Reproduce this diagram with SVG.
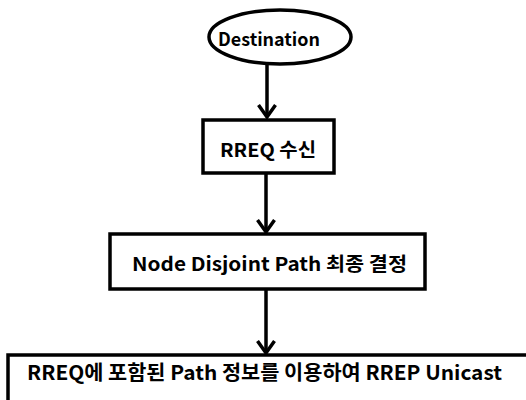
<svg xmlns="http://www.w3.org/2000/svg" width="526" height="400" viewBox="0 0 526 400">
<defs>
<style>
.n{fill:#fff;stroke:#000;stroke-width:3.5}
.t{font-family:"Noto Sans CJK KR","Noto Sans",sans-serif;font-weight:bold;fill:#000;text-anchor:middle}
.c{stroke:#000;stroke-width:3.5;fill:none}
.h{stroke:#000;stroke-width:3.5;fill:none;stroke-linejoin:miter}
</style>
</defs>
<rect width="526" height="400" fill="#fff"/>
<g id="connectors">
<line class="c" x1="267" y1="65" x2="267" y2="117"/>
<path class="h" d="M258.5,105 L267,117 L275.5,105"/>
<line class="c" x1="266" y1="173" x2="266" y2="232"/>
<path class="h" d="M257.5,220 L266,232 L274.5,220"/>
<line class="c" x1="266" y1="289" x2="266" y2="353"/>
<path class="h" d="M257.5,341 L266,353 L274.5,341"/>
</g>
<g id="destination">
<ellipse class="n" cx="280" cy="37" rx="71" ry="27"/>
<text class="t" x="269" y="46" font-size="18" textLength="102" lengthAdjust="spacingAndGlyphs">Destination</text>
</g>
<g id="rreq">
<rect class="n" x="203" y="120" width="131" height="53"/>
<text class="t" x="268" y="157" font-size="19" textLength="96" lengthAdjust="spacingAndGlyphs">RREQ 수신</text>
</g>
<g id="ndp">
<rect class="n" x="110" y="234" width="315" height="55"/>
<text class="t" x="269.5" y="271" font-size="19" textLength="275" lengthAdjust="spacingAndGlyphs">Node Disjoint Path 최종 결정</text>
</g>
<g id="rrep">
<rect class="n" x="8" y="355" width="540" height="70"/>
<text class="t" x="264.5" y="380" font-size="20" textLength="475" lengthAdjust="spacingAndGlyphs">RREQ에 포함된 Path 정보를 이용하여 RREP Unicast</text>
</g>
</svg>
